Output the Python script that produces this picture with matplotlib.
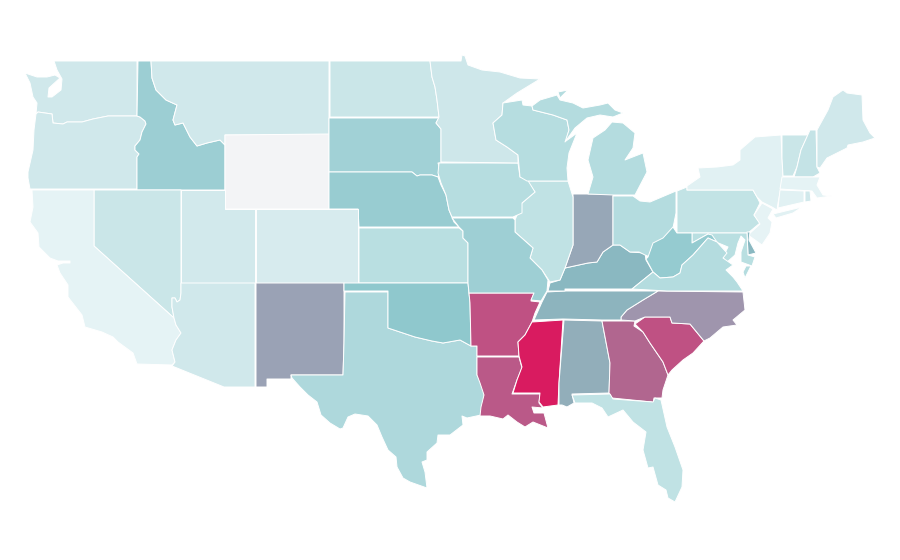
import matplotlib
matplotlib.use("Agg")
import matplotlib.pyplot as plt
from matplotlib.colors import LinearSegmentedColormap
from matplotlib.patches import Polygon

# state values, 0-100
values = dict(CA=10, WA=20, OR=20, NV=23, ID=41, MT=20, WY=0, UT=19, CO=17, AZ=20, NM=60, ND=23,
              SD=39, NE=42, KS=30, OK=45, TX=34, MN=21, IA=31, MO=40, AR=85, LA=81, WI=31, IL=27,
              MI=32, IN=58, OH=32, KY=50, TN=52, MS=100, AL=55, GA=75, FL=27, SC=85, NC=65, VA=32,
              WV=43, PA=26, NY=12, VT=23, NH=25, ME=20, MA=10, CT=12, RI=20, NJ=9, DE=50, MD=30)

# state outlines
outlines = {
 'WA': [[(54,61),(137,61),(137,116),(108,116),(93,119),(82,122),(67,122),(63,124),(53,123),(52,114),(38,112),(36,114),(37,103),(33,97),(30,83),(25,73),(37,77),(47,77),(55,75),(60,78),(49,88),(48,97),(52,97),(61,90),(62,79),(57,70)]],
 'OR': [[(36,114),(38,112),(52,114),(53,123),(63,124),(67,122),(82,122),(93,119),(108,116),(137,116),(140,117),(145,121),(146,124),(142,132),(140,140),(135,146),(135,150),(139,154),(137,157),(137,189),(30,189),(28,178),(28,172),(33,150),(34,130)]],
 'ID': [[(138,61),(151,61),(152,78),(156,90),(166,100),(177,105),(173,120),(175,125),(183,123),(190,137),(197,146),(207,143),(220,140),(225,145),(225,190),(137,190),(137,157),(139,154),(135,150),(135,146),(140,140),(142,132),(146,124),(145,121),(140,117),(137,116)]],
 'MT': [[(151,61),(329,61),(329,135),(225,135),(225,145),(220,140),(207,143),(197,146),(190,137),(183,123),(175,125),(173,120),(177,105),(166,100),(156,90),(152,78)]],
 'WY': [[(225,135),(329,134),(329,209),(225,209)]],
 'ND': [[(330,61),(430,61),(432,77),(435,87),(437,100),(439,117),(330,117)]],
 'SD': [[(329,118),(439,118),(436,123),(441,129),(441,163),(438,163),(440,170),(438,177),(432,175),(420,175),(417,176),(412,172),(342,172),(329,172)]],
 'NE': [[(329,172),(342,172),(412,172),(417,176),(420,175),(432,175),(438,177),(441,185),(446,195),(449,210),(454,222),(459,227),(359,227),(358,209),(329,209)]],
 'CO': [[(256,209),(358,209),(358,283),(256,283)]],
 'KS': [[(359,228),(459,228),(463,231),(463,238),(468,243),(468,283),(359,283)]],
 'UT': [[(181,190),(225,190),(225,209),(255,209),(255,283),(181,283)]],
 'NV': [[(94,190),(181,190),(181,293),(180,300),(177,302),(175,298),(172,298),(172,307),(174,318),(94,246)]],
 'CA': [[(32,190),(94,190),(94,246),(174,318),(176,325),(181,333),(176,340),(172,350),(175,362),(172,365),(137,364),(133,353),(118,342),(113,337),(102,332),(85,327),(82,315),(68,297),(68,285),(60,273),(57,265),(63,263),(70,263),(70,261),(58,261),(50,258),(39,247),(38,233),(30,222),(33,207)]],
 'AZ': [[(181,283),(255,283),(255,387),(224,387),(172,366),(175,362),(172,350),(176,340),(181,333),(176,325),(174,318),(172,307),(172,298),(175,298),(177,302),(180,300),(181,293)]],
 'NM': [[(256,283),(344,283),(344,343),(343,375),(291,375),(291,379),(267,379),(267,387),(256,387)]],
 'TX': [[(345,292),(388,292),(388,328),(400,332),(415,337),(432,341),(443,343),(460,340),(471,346),(477,346),(477,375),(484,388),(484,400),(481,415),(467,418),(462,416),(463,425),(450,435),(438,435),(437,443),(427,452),(427,460),(422,462),(425,472),(427,488),(410,482),(403,478),(397,467),(396,457),(388,450),(382,437),(377,425),(368,416),(355,414),(348,417),(343,428),(340,429),(330,423),(321,415),(317,402),(308,395),(300,387),(292,378),(291,375),(343,375),(344,343)]],
 'OK': [[(344,283),(468,283),(470,303),(471,346),(460,340),(443,343),(432,341),(415,337),(400,332),(388,328),(388,291),(344,291)]],
 'AR': [[(469,293),(534,293),(531,301),(540,302),(535,313),(532,322),(525,335),(518,342),(519,356),(477,356),(477,346),(471,346),(470,303)]],
 'LA': [[(477,357),(519,357),(522,368),(517,380),(512,394),(540,394),(539,403),(543,408),(532,407),(534,413),(544,413),(548,428),(533,422),(525,427),(517,422),(508,415),(503,419),(490,416),(480,416),(481,407),(484,395),(480,383),(477,375)]],
 'MS': [[(563,320),(532,322),(525,335),(518,342),(519,356),(522,367),(517,380),(513,393),(540,393),(539,402),(543,407),(558,405),(559,383)]],
 'AL': [[(564,320),(602,321),(610,363),(609,393),(572,394),(574,403),(567,407),(562,405),(559,405),(559,383)]],
 'GA': [[(602,321),(635,321),(634,326),(643,332),(650,343),(663,362),(668,375),(663,390),(662,398),(654,398),(653,404),(652,402),(612,398),(609,393),(610,363)]],
 'FL': [[(572,395),(610,394),(613,399),(653,402),(655,398),(661,400),(667,427),(675,447),(683,470),(682,487),(675,502),(668,498),(666,490),(658,485),(653,467),(648,468),(643,450),(646,432),(633,422),(623,410),(608,417),(602,408),(592,403),(575,403)]],
 'SC': [[(635,324),(645,317),(670,317),(672,323),(690,324),(704,341),(693,353),(683,360),(672,370),(668,375),(663,362),(650,343),(643,332)]],
 'NC': [[(621,320),(621,317),(627,310),(643,300),(658,291),(743,292),(745,310),(733,320),(737,325),(723,327),(710,338),(704,341),(690,324),(672,323),(670,317),(645,317),(635,321)]],
 'TN': [[(534,320),(542,302),(547,292),(565,291),(658,291),(643,300),(627,310),(621,317),(621,320),(602,320),(563,319)]],
 'KY': [[(548,291),(550,283),(560,280),(565,268),(588,263),(597,262),(603,252),(613,245),(620,245),(630,252),(645,253),(646,260),(653,272),(632,289),(565,289),(565,291)]],
 'IN': [[(573,194),(613,194),(613,245),(603,252),(597,262),(588,263),(565,268),(573,245)]],
 'IL': [[(527,181),(568,181),(573,197),(573,245),(565,268),(560,280),(550,282),(542,270),(530,258),(533,248),(515,232),(515,220),(522,203),(535,192)]],
 'IA': [[(439,163),(518,163),(520,177),(527,179),(535,192),(522,203),(522,213),(513,217),(452,217),(449,210),(446,195),(441,183),(438,173)]],
 'MO': [[(452,218),(513,218),(515,220),(515,232),(533,248),(530,258),(542,270),(548,280),(547,291),(541,301),(531,300),(534,293),(469,293),(468,283),(468,243),(463,238),(463,231),(459,227)]],
 'MN': [[(430,61),(461,61),(462,55),(465,56),(468,65),(482,70),(500,72),(520,78),(540,79),(517,93),(503,103),(502,115),(493,123),(496,140),(507,147),(518,155),(518,163),(441,162),(441,129),(436,123),(439,117),(437,100),(435,87),(432,77)]],
 'WI': [[(503,103),(522,100),(523,105),(532,106),(533,110),(553,115),(567,120),(569,130),(566,141),(577,133),(569,153),(567,168),(568,181),(527,181),(520,177),(518,155),(507,147),(496,140),(493,123),(502,115)]],
 'MI': [[(533,110),(532,106),(540,100),(557,95),(560,100),(573,103),(583,108),(600,105),(608,103),(615,110),(623,113),(613,117),(600,115),(587,118),(575,128),(565,142),(569,130),(567,120),(553,115)],
        [(612,122),(623,123),(635,133),(633,148),(625,160),(643,153),(647,172),(635,195),(613,195),(588,194),(593,177),(588,160),(593,138),(605,130)],
        [(558,92),(568,90),(560,98)]],
 'OH': [[(613,196),(633,196),(640,201),(650,202),(676,191),(676,213),(672,233),(658,242),(650,257),(645,255),(639,252),(630,252),(620,245),(613,245)]],
 'PA': [[(677,191),(687,187),(687,190),(753,190),(757,197),(760,203),(754,215),(760,223),(748,233),(677,233)]],
 'NY': [[(687,186),(700,177),(698,168),(717,167),(733,165),(740,160),(740,150),(755,137),(781,135),(782,158),(783,177),(778,203),(777,210),(772,207),(762,202),(757,197),(753,190),(687,190)],
        [(773,214),(802,207),(793,213),(776,218)]],
 'VT': [[(782,135),(808,135),(801,150),(797,167),(793,176),(783,176),(782,158)]],
 'NH': [[(810,130),(816,130),(817,167),(820,173),(813,177),(794,177),(797,167),(801,150)]],
 'ME': [[(817,130),(828,110),(833,97),(843,90),(847,93),(862,95),(863,120),(870,133),(875,138),(863,142),(848,145),(847,148),(827,158),(820,168),(817,167)]],
 'MA': [[(782,177),(820,177),(817,185),(823,195),(832,196),(817,198),(812,191),(780,189)]],
 'CT': [[(780,190),(804,191),(804,202),(778,208)]],
 'RI': [[(805,191),(810,191),(811,201),(805,202)]],
 'NJ': [[(762,203),(773,209),(768,218),(772,222),(770,233),(762,245),(748,235),(760,224),(754,215)]],
 'DE': [[(747,232),(750,232),(749,240),(756,253),(748,255)]],
 'MD': [[(692,233),(747,233),(748,255),(755,257),(752,266),(741,262),(741,252),(745,240),(741,236),(738,243),(735,255),(726,263),(723,257),(728,247),(716,242),(708,234),(692,243)]],
 'WV': [[(646,259),(653,272),(660,278),(673,277),(680,273),(682,265),(693,255),(708,238),(717,242),(712,235),(708,234),(692,243),(692,233),(677,233),(673,227),(663,238),(653,243),(648,257)]],
 'VA': [[(632,289),(653,272),(660,278),(673,277),(680,273),(682,265),(693,255),(708,238),(717,242),(727,253),(723,258),(733,265),(726,270),(733,277),(737,282),(743,291),(667,291)],
        [(751,266),(745,278),(743,272),(746,266)]],
}

stops = [(0,'#f3f4f6'),(10,'#e5f3f5'),(20,'#d0e8eb'),(30,'#b9dfe1'),(40,'#9ecfd4'),(45,'#8fc8cd'),
         (50,'#8ab8c1'),(55,'#92aeba'),(60,'#9aa2b5'),(65,'#9f95ad'),(75,'#b1678f'),(85,'#bf5183'),(100,'#d91b60')]
cmap = LinearSegmentedColormap.from_list('rate', [(v/100, c) for v, c in stops])

fig = plt.figure(figsize=(9, 5.6), dpi=100)
ax = fig.add_axes([0, 0, 1, 1])
ax.set_xlim(0, 900)
ax.set_ylim(560, 0)
ax.axis('off')
for state, parts in outlines.items():
    for part in parts:
        ax.add_patch(Polygon(part, closed=True, facecolor=cmap(values[state]/100),
                             edgecolor='white', linewidth=0.7, joinstyle='round'))
fig.savefig('out.png', dpi=100)
